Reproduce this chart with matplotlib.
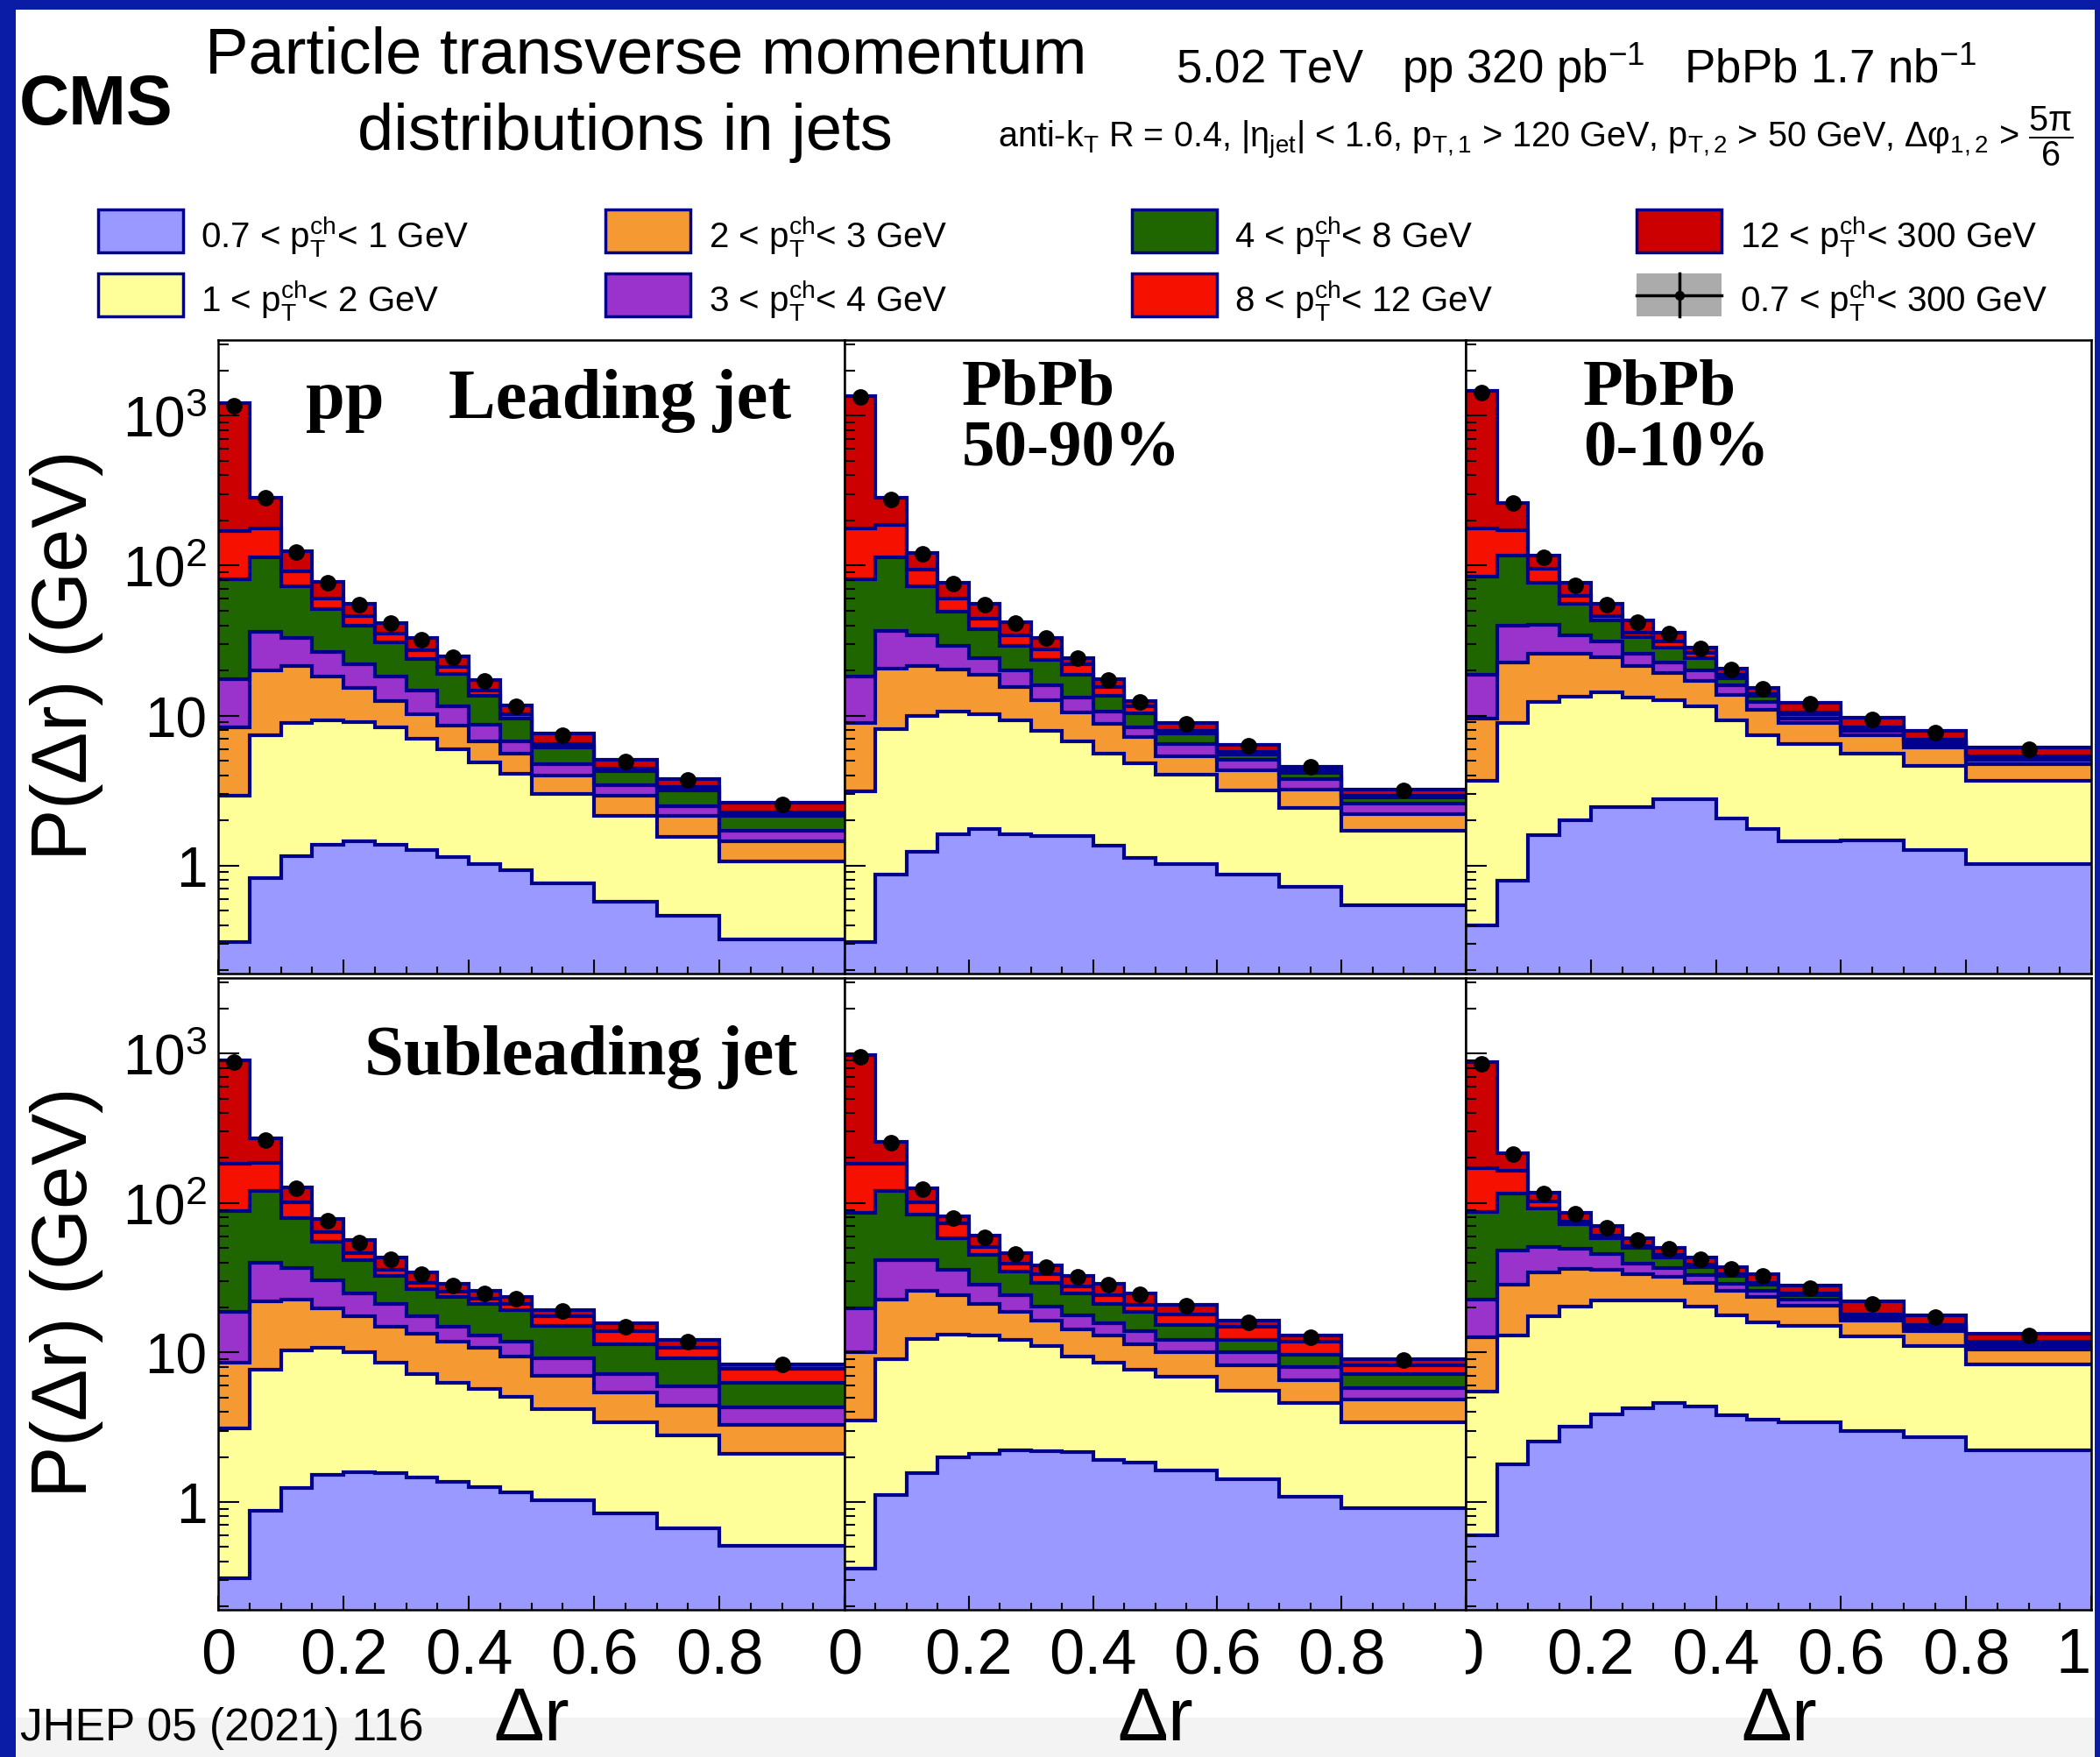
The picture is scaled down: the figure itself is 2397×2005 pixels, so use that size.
import numpy as np
import matplotlib
matplotlib.use("Agg")
import matplotlib.pyplot as plt
from matplotlib.patches import Rectangle
from matplotlib.lines import Line2D
from matplotlib.ticker import MultipleLocator, LogLocator, NullFormatter
from matplotlib.transforms import Bbox, TransformedBbox

plt.rcParams['font.family'] = ['Liberation Sans', 'DejaVu Sans']
plt.rcParams['mathtext.fontset'] = 'custom'
plt.rcParams['mathtext.rm'] = 'Liberation Sans'
plt.rcParams['mathtext.it'] = 'Liberation Sans:italic'
plt.rcParams['mathtext.bf'] = 'Liberation Sans:bold'

# bin edges in delta r
edges = [0, 0.05, 0.1, 0.15, 0.2, 0.25, 0.3, 0.35, 0.4, 0.45, 0.5, 0.6, 0.7, 0.8, 1.0]

# track pT classes (stack order, bottom to top)
pt_labels = [r'0.7 < $\mathrm{p_{T}^{ch}}$< 1 GeV', r'1 < $\mathrm{p_{T}^{ch}}$< 2 GeV',
             r'2 < $\mathrm{p_{T}^{ch}}$< 3 GeV', r'3 < $\mathrm{p_{T}^{ch}}$< 4 GeV',
             r'4 < $\mathrm{p_{T}^{ch}}$< 8 GeV', r'8 < $\mathrm{p_{T}^{ch}}$< 12 GeV',
             r'12 < $\mathrm{p_{T}^{ch}}$< 300 GeV']
data_label = r'0.7 < $\mathrm{p_{T}^{ch}}$< 300 GeV'
colors = ['#9999ff', '#ffff99', '#f59a32', '#9933cc', '#1f6600', '#f51000', '#cc0000']
navy = '#00008c'

# cumulative P(dr) up to the upper edge of each pT class (one row per class)
pp_lead = [
    [0.31, 0.82, 1.16, 1.38, 1.45, 1.38, 1.27, 1.14, 1.02, 0.93, 0.76, 0.57, 0.46, 0.32],
    [2.93, 7.4, 8.9, 9.3, 9.1, 8.3, 7.0, 6.0, 4.9, 4.1, 3.0, 2.15, 1.56, 1.07],
    [8.4, 20, 21.5, 18.1, 15.3, 12.5, 10.2, 8.6, 6.7, 5.55, 4.0, 2.93, 2.15, 1.45],
    [17.5, 36, 33, 26.6, 22, 18.1, 14.7, 11.6, 8.7, 6.7, 4.73, 3.44, 2.5, 1.70],
    [81.5, 114, 72.6, 51.4, 39.8, 30.8, 23.9, 19.0, 13.6, 9.6, 6.1, 4.25, 3.16, 2.15],
    [170, 178, 91.4, 60, 45.8, 35, 27.1, 21, 14.7, 10.2, 6.5, 4.44, 3.33, 2.27],
    [1210, 284, 125, 78, 55.5, 41.6, 32.9, 24.9, 17.2, 11.7, 7.64, 5.1, 3.78, 2.61],
]
pp_lead_data = [1173, 284, 123.5, 77.4, 54.8, 41.4, 32.2, 24.6, 17.0, 11.6, 7.4, 4.95, 3.73, 2.55]

pp_sub = [
    [0.31, 0.87, 1.24, 1.51, 1.59, 1.56, 1.46, 1.37, 1.26, 1.16, 1.02, 0.84, 0.67, 0.51],
    [3.09, 7.7, 10.3, 10.8, 10.0, 8.5, 7.2, 6.3, 5.7, 5.05, 4.2, 3.4, 2.8, 2.09],
    [8.5, 21.9, 22.6, 19.8, 17.4, 14.8, 13.4, 11.8, 10.7, 9.4, 7.0, 5.4, 4.4, 3.3],
    [18.6, 39.8, 36.9, 30.3, 24.9, 21.2, 17.4, 14.8, 13.0, 11.8, 9.1, 7.2, 5.9, 4.3],
    [87.8, 121, 79.6, 55.2, 41.5, 32.4, 26.6, 23.4, 21.2, 19.2, 15.0, 11.4, 9.1, 6.3],
    [182, 186, 101, 64, 46, 35.7, 29.3, 25.5, 22.8, 21.0, 17.4, 13.9, 10.8, 7.8],
    [901, 269, 127, 78, 56.3, 43.4, 34.5, 28.8, 25.8, 23.4, 19.2, 15.6, 12.2, 8.3],
]
pp_sub_data = [873, 264, 125, 76.5, 54.5, 42, 33.4, 28, 24.9, 22.9, 19, 14.8, 11.8, 8.3]

pbpb_periph_lead = [
    [0.31, 0.87, 1.24, 1.62, 1.75, 1.62, 1.58, 1.58, 1.36, 1.12, 1.02, 0.87, 0.72, 0.54],
    [3.12, 8.15, 10.0, 10.7, 10.2, 9.26, 7.9, 6.7, 5.55, 4.82, 4.03, 3.16, 2.42, 1.70],
    [8.97, 20.6, 21.5, 20.2, 18.7, 15.4, 12.7, 10.5, 8.8, 7.17, 5.38, 4.3, 3.22, 2.2],
    [18.1, 36.6, 34.4, 29.3, 24.2, 20, 16, 13.2, 10.7, 8.4, 6.5, 5.04, 3.78, 2.58],
    [81.5, 114, 72.6, 49.5, 37.8, 29.3, 23.4, 18.7, 13.6, 10.4, 7.64, 5.48, 4.16, 2.84],
    [176, 187, 93.8, 60, 44.4, 34.4, 27.5, 22, 15.4, 11.6, 7.9, 5.73, 4.3, 2.93],
    [1359, 284, 121, 76.4, 55.5, 42.2, 32.9, 24.2, 17.5, 12.5, 8.97, 6.4, 4.58, 3.22],
]
pbpb_periph_lead_data = [1342, 278, 120, 75.5, 54.8, 41.6, 32.9, 24.2, 17.2, 12.4, 8.8, 6.3, 4.53, 3.16]

pbpb_periph_sub = [
    [0.36, 1.12, 1.56, 1.98, 2.09, 2.23, 2.2, 2.16, 1.92, 1.83, 1.63, 1.42, 1.09, 0.91],
    [3.52, 9.07, 12.3, 13.2, 13, 12.2, 11, 9.37, 8.5, 7.7, 6.85, 5.56, 4.57, 3.41],
    [10, 22.6, 25.8, 24.1, 21.2, 18.6, 16.3, 14.3, 13, 11.4, 10, 8.22, 6.55, 4.88],
    [19.8, 41.5, 41.5, 35.7, 28.4, 24.1, 20.2, 17.8, 15.6, 13.9, 12.2, 10, 7.96, 5.74],
    [86, 121, 83.3, 58.2, 44.8, 35, 29.3, 24.9, 21.2, 18.6, 15.3, 12.2, 9.68, 7.21],
    [182, 182, 101, 73.1, 51.1, 39.4, 33.4, 27.5, 24.1, 20.8, 18, 14.8, 11.8, 8.22],
    [974, 257, 126, 81.7, 60.1, 46.3, 38.1, 32.4, 28.8, 24.9, 20.8, 16.3, 13, 9.07],
]
pbpb_periph_sub_data = [949, 253, 123, 79.6, 59, 45.4, 37.4, 31.9, 28.4, 24.6, 20.5, 16, 12.6, 8.9]

pbpb_cent_lead = [
    [0.40, 0.79, 1.60, 2.0, 2.45, 2.45, 2.75, 2.75, 2.06, 1.76, 1.45, 1.47, 1.27, 1.02],
    [3.66, 8.97, 12.4, 13.4, 14.3, 13.2, 12.7, 11.6, 9.26, 7.4, 6.5, 5.55, 4.64, 3.66],
    [9.57, 22.7, 25.8, 25.8, 24.5, 21.3, 19.3, 17, 13.8, 10.9, 8.97, 7.4, 6.1, 4.73],
    [18.7, 39.8, 40.3, 34.4, 31.2, 25.8, 22.7, 20, 16, 12.4, 9.57, 7.9, 6.5, 5.04],
    [84, 116, 76.4, 55.5, 43, 33.3, 28.4, 24.2, 17.8, 13.6, 10.2, 8.26, 6.73, 5.21],
    [178, 173, 95.6, 63, 46.4, 35.9, 31.2, 26.1, 18.7, 14, 10.5, 8.4, 6.95, 5.38],
    [1468, 261, 116, 76.4, 55.5, 43, 35.9, 28.4, 20.6, 15.3, 12.1, 9.7, 7.9, 6.1],
]
pbpb_cent_lead_data = [1431, 261, 114, 74, 54.8, 42.2, 35, 28, 20.2, 15, 12, 9.44, 7.74, 5.92]

pbpb_cent_sub = [
    [0.60, 1.78, 2.54, 3.19, 3.88, 4.23, 4.57, 4.34, 3.81, 3.57, 3.41, 2.99, 2.71, 2.23],
    [5.49, 13, 17.4, 20.2, 22.2, 22.2, 22.2, 20.2, 17.8, 16, 15, 12.8, 11, 8.33],
    [12.6, 28.4, 34.5, 36.4, 35.7, 33.4, 31.9, 29.3, 25.8, 23.4, 20.5, 16.3, 13.9, 10.5],
    [22.6, 47.9, 51.1, 49.4, 45.4, 39.4, 36.9, 32.8, 28.8, 25.8, 22.6, 17.1, 14.5, 11],
    [87.3, 115, 91.9, 71.7, 58.2, 50.4, 43.4, 37.4, 32.4, 28.4, 24.1, 17.6, 15, 11.4],
    [171, 165, 103, 74.6, 60.1, 51.8, 44.8, 38.8, 33.4, 29.3, 24.9, 18, 15.3, 11.8],
    [872, 214, 118, 86, 69.8, 58.2, 50.4, 43.4, 37.4, 33.4, 28, 21.9, 17.8, 13.4],
]
pbpb_cent_sub_data = [855, 212, 115, 84.4, 68, 56.7, 49.1, 42, 36.4, 32.4, 27, 21.2, 17.3, 13]

W, H = 2397, 2006
fig = plt.figure(figsize=(W / 100, H / 100), dpi=100)


def fx(px):
    return px / W


def fy(py):
    return 1 - py / H


def draw_panel(ax, stack, points):
    lower = np.full(len(edges) - 1, 1e-3)
    for upper, c in zip(stack, colors):
        ax.stairs(upper, edges, baseline=lower, fill=True, color=c, lw=0)
        lower = np.asarray(upper, dtype=float)
    for upper in stack:
        ax.stairs(upper, edges, baseline=None, color=navy, lw=3)
    centers = (np.array(edges[:-1]) + np.array(edges[1:])) / 2
    ax.plot(centers, points, 'o', color='black', ms=12.5, zorder=5)

    ax.set_xlim(0, 1)
    ax.set_yscale('log')
    ax.set_ylim(0.19, 3200)
    ax.set_xticks([0, 0.2, 0.4, 0.6, 0.8, 1.0])
    ax.xaxis.set_minor_locator(MultipleLocator(0.05))
    ax.set_yticks([1, 10, 100, 1000])
    ax.set_yticklabels(['1', '10', r'$\mathrm{10^{2}}$', r'$\mathrm{10^{3}}$'])
    ax.yaxis.set_minor_locator(LogLocator(base=10, subs=np.arange(2, 10)))
    ax.yaxis.set_minor_formatter(NullFormatter())
    ax.tick_params(which='both', direction='in', top=False, right=False, width=1.5)
    ax.tick_params(axis='x', which='major', length=11.5, labelsize=52, pad=14)
    ax.tick_params(axis='x', which='minor', length=5.8)
    ax.tick_params(axis='y', which='major', length=17, labelsize=46, pad=9)
    ax.tick_params(axis='y', which='minor', length=8.6)
    for s in ax.spines.values():
        s.set_linewidth(1.8)


panels = [
    (pp_lead, pp_lead_data), (pbpb_periph_lead, pbpb_periph_lead_data), (pbpb_cent_lead, pbpb_cent_lead_data),
    (pp_sub, pp_sub_data), (pbpb_periph_sub, pbpb_periph_sub_data), (pbpb_cent_sub, pbpb_cent_sub_data),
]
col_left = [249, 964, 1673]
col_right = [964, 1673, 2387]
row_top = [389, 1117]
row_bot = [1112, 1838]

axes = []
for i, (stack, pts) in enumerate(panels):
    r, c = divmod(i, 3)
    ax = fig.add_axes([fx(col_left[c]), fy(row_bot[r]),
                       (col_right[c] - col_left[c]) / W, (row_bot[r] - row_top[r]) / H])
    draw_panel(ax, stack, pts)
    if c > 0:
        ax.tick_params(axis='y', labelleft=False)
    if r == 0:
        ax.tick_params(axis='x', labelbottom=False)
    else:
        if c < 2:
            ax.set_xticklabels(['0', '0.2', '0.4', '0.6', '0.8', ''])
        else:
            ax.set_xticklabels(['0', '0.2', '0.4', '0.6', '0.8', '1'])
            ticks = ax.xaxis.get_major_ticks()
            # the first "0" is half hidden behind the neighbouring pad
            ticks[0].label1.set_clip_on(True)
            ticks[0].label1.set_clip_box(TransformedBbox(Bbox([[0, -1], [1.2, 0]]), ax.transAxes))
            ticks[-1].label1.set_horizontalalignment('right')
    axes.append(ax)

# panel labels
serif = ['Liberation Serif', 'DejaVu Serif']
fig.text(fx(349), fy(477), 'pp', family=serif, weight='bold', fontsize=58)
fig.text(fx(512), fy(477), 'Leading jet', family=serif, weight='bold', fontsize=58)
fig.text(fx(416), fy(1226), 'Subleading jet', family=serif, weight='bold', fontsize=58)
fig.text(fx(1098), fy(462), 'PbPb', family=serif, weight='bold', fontsize=54)
fig.text(fx(1098), fy(532), '50-90%', family=serif, weight='bold', fontsize=54)
fig.text(fx(1807), fy(462), 'PbPb', family=serif, weight='bold', fontsize=54)
fig.text(fx(1807), fy(532), '0-10%', family=serif, weight='bold', fontsize=54)

# axis titles
for r in range(2):
    fig.text(fx(76), fy((row_top[r] + row_bot[r]) / 2), r'P($\Delta$r) (GeV)', rotation=90,
             ha='center', va='center', fontsize=64)
for c in range(3):
    fig.text(fx((col_left[c] + col_right[c]) / 2), fy(1986), r'$\Delta$r', ha='center',
             va='baseline', fontsize=62)

# header
fig.text(fx(22), fy(142), 'CMS', weight='bold', fontsize=57, va='baseline')
fig.text(fx(737), fy(84), 'Particle transverse momentum', ha='center', va='baseline', fontsize=53.5)
fig.text(fx(713), fy(171), 'distributions in jets', ha='center', va='baseline', fontsize=53.5)
fig.text(fx(1342), fy(95), r'5.02 TeV   pp 320 $\mathrm{pb^{-1}}$   PbPb 1.7 $\mathrm{nb^{-1}}$',
         va='baseline', fontsize=38)
fig.text(fx(1139), fy(168),
         r'anti-$\mathrm{k_{T}}$ R = 0.4, |$\mathrm{\eta_{jet}}$| < 1.6, $\mathrm{p_{T,1}}$ > 120 GeV, '
         r'$\mathrm{p_{T,2}}$ > 50 GeV, $\mathrm{\Delta\varphi_{1,2}}$ > $\mathrm{\dfrac{5\pi}{6}}$',
         va='baseline', fontsize=28.5)

# legend
box_x = [112, 691, 1292, 1868]
text_x = [229, 809, 1409, 1986]
row_box = [(240, 289), (313, 362)]
row_base = [283, 356]
for k in range(8):
    c, r = divmod(k, 2)
    y0, y1 = row_box[r]
    if k < 7:
        fig.add_artist(Rectangle((fx(box_x[c]), fy(y1)), 97 / W, (y1 - y0) / H, transform=fig.transFigure,
                                 facecolor=colors[k], edgecolor=navy, lw=2.5))
        label = pt_labels[k]
    else:
        fig.add_artist(Rectangle((fx(box_x[c]), fy(y1)), 97 / W, (y1 - y0) / H, transform=fig.transFigure,
                                 facecolor='#ababab', edgecolor='none'))
        xm = box_x[c] + 48.5
        ym = (y0 + y1) / 2
        fig.add_artist(Line2D([fx(box_x[c]), fx(box_x[c] + 97)], [fy(ym), fy(ym)], color='black', lw=2.5,
                              transform=fig.transFigure))
        fig.add_artist(Line2D([fx(xm), fx(xm)], [fy(y0), fy(y1)], color='black', lw=2.5,
                              transform=fig.transFigure))
        fig.add_artist(Line2D([fx(xm)], [fy(ym)], marker='o', color='black', ms=7, transform=fig.transFigure))
        label = data_label
    fig.text(fx(text_x[c]), fy(row_base[r]), label, va='baseline', fontsize=29)

# footer and frame
fig.add_artist(Rectangle((0, 0), 1, 45 / H, transform=fig.transFigure, facecolor='#f3f3f3',
                         edgecolor='none', zorder=-5))
fig.text(fx(23), fy(1986), 'JHEP 05 (2021) 116', va='baseline', fontsize=37)
border = '#0a1ca6'
fig.add_artist(Rectangle((0, 0), 18 / W, 1, transform=fig.transFigure, facecolor=border, edgecolor='none'))
fig.add_artist(Rectangle((0, 1 - 12 / H), 1, 12 / H, transform=fig.transFigure, facecolor=border,
                         edgecolor='none'))
fig.add_artist(Rectangle((1 - 6 / W, 0), 6 / W, 1, transform=fig.transFigure, facecolor=border,
                         edgecolor='none'))

fig.savefig('out.png', dpi=100, facecolor='white')
